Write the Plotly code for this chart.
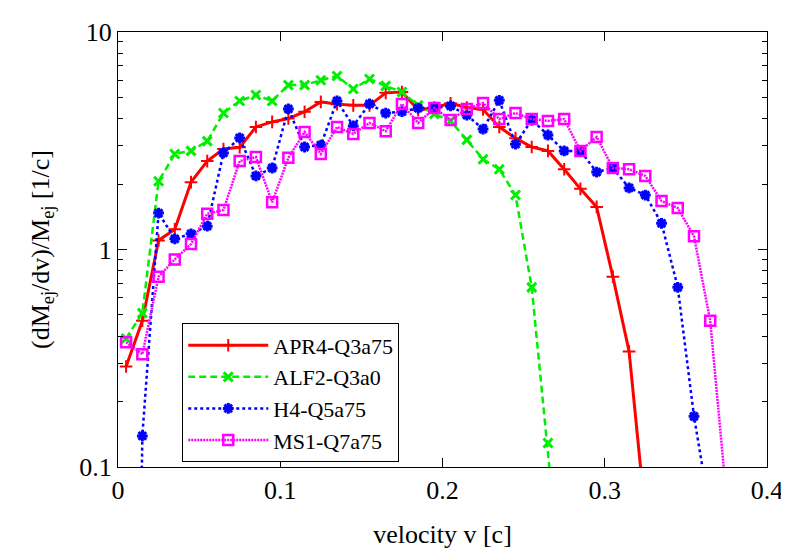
import plotly.graph_objects as go

# bin centres of the velocity histogram [c]
VELOCITY = [
    0.005, 0.015, 0.025, 0.035, 0.045, 0.055, 0.065, 0.075, 0.085, 0.095,
    0.105, 0.115, 0.125, 0.135, 0.145, 0.155, 0.165, 0.175, 0.185, 0.195,
    0.205, 0.215, 0.225, 0.235, 0.245, 0.255, 0.265, 0.275, 0.285, 0.295,
    0.305, 0.315, 0.325, 0.335, 0.345, 0.355, 0.365, 0.375,
]

APR4_Q3A75 = [
    0.29, 0.47, 1.1, 1.24, 2.04, 2.55, 2.9, 2.95, 3.66, 3.86,
    4.0, 4.3, 4.77, 4.66, 4.6, 4.6, 5.25, 5.3, 4.38, 4.5,
    4.7, 4.5, 4.4, 3.66, 3.25, 2.96, 2.84, 2.34, 1.9, 1.57,
    0.75, 0.34, 0.06,
]
ALF2_Q3A0 = [
    0.39, 0.51, 2.06, 2.75, 2.84, 3.15, 4.24, 4.82, 5.13, 4.82,
    5.7, 5.7, 6.0, 6.28, 5.47, 6.08, 5.65, 5.3, 4.6, 4.2,
    3.9, 3.19, 2.6, 2.34, 1.78, 0.67, 0.129, 0.02,
]
H4_Q5A75 = [
    1e-6, 0.139, 1.47, 1.12, 1.18, 1.28, 2.78, 3.26, 2.18, 2.37,
    4.43, 2.96, 3.02, 4.82, 3.7, 4.67, 4.24, 4.3, 4.47, 4.47,
    4.57, 4.15, 3.58, 4.85, 3.05, 3.94, 3.36, 2.84, 2.84, 2.27,
    2.37, 1.92, 1.78, 1.32, 0.67, 0.171, 0.061,
]
MS1_Q7A75 = [
    0.375, 0.33, 0.75, 0.9, 1.06, 1.46, 1.52, 2.55, 2.66, 1.65,
    2.64, 3.47, 2.75, 3.66, 3.4, 3.82, 3.5, 4.67, 3.82, 4.47,
    3.94, 4.43, 4.72, 3.98, 4.24, 3.98, 3.9, 3.98, 2.84, 3.29,
    2.37, 2.34, 2.18, 1.67, 1.55, 1.15, 0.47, 0.073,
]

SERIES = [
    ("APR4-Q3a75", APR4_Q3A75, "#ff0000", "solid", "cross-thin", 9, 2),
    ("ALF2-Q3a0", ALF2_Q3A0, "#00ee00", "7px,4px", "x-thin", 9, 3),
    ("H4-Q5a75", H4_Q5A75, "#0000ff", "3px,3px", "asterisk", 9, 3),
    ("MS1-Q7a75", MS1_Q7A75, "#ff00ff", "2px,1px", "square-open", 10, 2.5),
]

FONT = "Liberation Serif"
TEXT = {"family": FONT, "size": 26, "color": "black"}

fig = go.Figure()
for name, values, color, dash, symbol, size, mlw in SERIES:
    fig.add_trace(
        go.Scatter(
            x=VELOCITY[: len(values)],
            y=values,
            name=name,
            mode="lines+markers",
            line={"color": color, "width": 3 if dash == "solid" else 2.5, "dash": dash},
            marker={
                "symbol": symbol,
                "size": size,
                "color": color,
                "line": {"color": color, "width": mlw},
            },
        )
    )

axis_common = {
    "showgrid": False,
    "zeroline": False,
    "showline": True,
    "linecolor": "black",
    "linewidth": 1,
    "mirror": "ticks",
    "ticks": "inside",
    "tickcolor": "black",
    "tickfont": TEXT,
    "automargin": False,
}

fig.update_xaxes(
    range=[0, 0.4],
    dtick=0.1,
    tick0=0,
    ticklen=9,
    title={"text": "velocity v [c]", "font": TEXT, "standoff": 20},
    **axis_common,
)
fig.update_yaxes(
    type="log",
    range=[-1, 1],
    dtick=1,
    ticklen=9,
    minor={"ticks": "inside", "ticklen": 5, "dtick": "D1", "tickcolor": "black", "showgrid": False},
    title={
        "text": "(dM<sub>ej</sub>/dv)/M<sub>ej</sub> [1/c]",
        "font": TEXT,
        "standoff": 22,
    },
    **axis_common,
)

# the page body adds an 8px offset, so the figure is 8px smaller and shifted
fig.update_layout(
    width=781,
    height=544,
    margin={"l": 110, "r": 22, "t": 24, "b": 85},
    paper_bgcolor="white",
    plot_bgcolor="white",
    font=TEXT,
    showlegend=True,
    legend={
        "x": 0.099,
        "y": 0.33,
        "xanchor": "left",
        "yanchor": "top",
        "bgcolor": "white",
        "bordercolor": "black",
        "borderwidth": 1,
        "itemwidth": 80,
        "tracegroupgap": 0,
        "font": {"family": FONT, "size": 22, "color": "black"},
    },
)

fig.write_html("out.html")
